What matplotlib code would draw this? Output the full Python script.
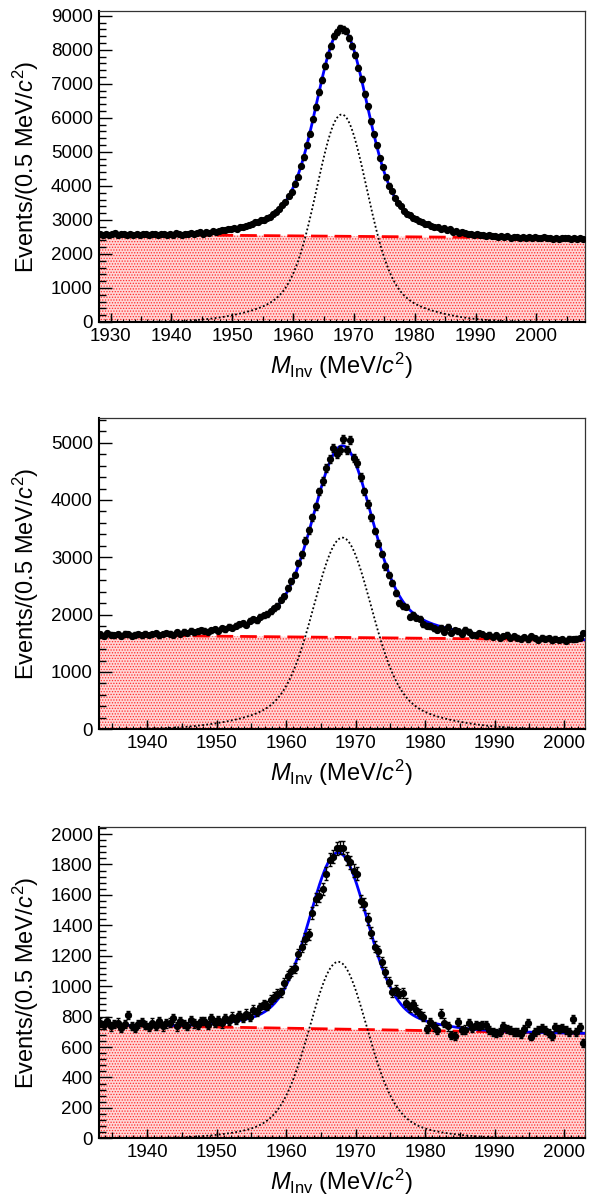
import numpy as np
import matplotlib
matplotlib.use('Agg')
import matplotlib.pyplot as plt
from matplotlib.ticker import MultipleLocator, AutoMinorLocator

plt.rcParams['font.family'] = ['Liberation Sans', 'DejaVu Sans']
plt.rcParams['mathtext.fontset'] = 'custom'
plt.rcParams['mathtext.rm'] = 'Liberation Sans'
plt.rcParams['mathtext.it'] = 'Liberation Sans:italic'
plt.rcParams['hatch.linewidth'] = 0.6

BIN_WIDTH = 0.5

# ---------------- Panel 1 ----------------
p1_range = (1928.0, 2008.0)
p1_ylim = (0, 9150)
p1_xticks = [1930, 1940, 1950, 1960, 1970, 1980, 1990, 2000]
p1_yticks = [0, 1000, 2000, 3000, 4000, 5000, 6000, 7000, 8000, 9000]
p1_counts = [
    2590, 2545, 2600, 2570, 2585, 2610, 2560, 2575, 2595, 2550,
    2580, 2565, 2600, 2555, 2590, 2575, 2545, 2600, 2580, 2560,
    2575, 2600, 2570, 2590, 2560, 2605, 2585, 2570, 2600, 2590,
    2610, 2590, 2625, 2640, 2600, 2650, 2630, 2665, 2645, 2680,
    2700, 2690, 2735, 2720, 2760, 2745, 2800, 2790, 2835, 2850,
    2890, 2925, 2930, 2990, 3000, 3070, 3100, 3180, 3220, 3330,
    3440, 3520, 3700, 3830, 4070, 4270, 4580, 4840, 5200, 5540,
    5960, 6320, 6760, 7120, 7530, 7860, 8120, 8400, 8520, 8640,
    8600, 8560, 8350, 8100, 7850, 7480, 7150, 6700, 6340, 5900,
    5520, 5190, 4820, 4550, 4250, 4010, 3850, 3640, 3490, 3400,
    3270, 3180, 3140, 3050, 3030, 2960, 2950, 2890, 2880, 2820,
    2800, 2790, 2740, 2760, 2700, 2720, 2660, 2680, 2620, 2650,
    2610, 2580, 2600, 2560, 2590, 2545, 2570, 2530, 2555, 2520,
    2530, 2500, 2520, 2490, 2515, 2480, 2505, 2495, 2470, 2490,
    2460, 2490, 2470, 2485, 2455, 2475, 2490, 2460, 2470, 2450,
    2470, 2450, 2480, 2455, 2465, 2440, 2475, 2450, 2460, 2445,
]
p1_bg_ends = (2580, 2460)
p1_sig_mean = 1968.0
p1_sig_core = (5100, 4.0)
p1_sig_tail = (1000, 10.0)

# ---------------- Panel 2 ----------------
p2_range = (1933.0, 2003.0)
p2_ylim = (0, 5430)
p2_xticks = [1940, 1950, 1960, 1970, 1980, 1990, 2000]
p2_yticks = [0, 1000, 2000, 3000, 4000, 5000]
p2_counts = [
    1660, 1630, 1675, 1650, 1640, 1665, 1625, 1670, 1655, 1635,
    1650, 1665, 1640, 1670, 1645, 1660, 1675, 1640, 1665, 1680,
    1670, 1650, 1690, 1665, 1700, 1680, 1720, 1690, 1710, 1730,
    1720, 1700, 1730, 1745, 1720, 1760, 1745, 1790, 1770, 1810,
    1830, 1850, 1820, 1890, 1920, 1900, 1960, 1990, 2010, 2060,
    2110, 2150, 2260, 2320, 2460, 2590, 2700, 2900, 3050, 3290,
    3470, 3700, 3890, 4150, 4330, 4560, 4720, 4910, 4800, 4880,
    5070, 4880, 5040, 4740, 4640, 4400, 4150, 3930, 3700, 3460,
    3240, 3060, 2840, 2690, 2550, 2380, 2200, 2150, 2140, 1960,
    2000, 1950, 1930, 1830, 1810, 1800, 1760, 1740, 1770, 1700,
    1790, 1680, 1730, 1710, 1660, 1740, 1700, 1650, 1640, 1680,
    1660, 1620, 1650, 1610, 1640, 1600, 1630, 1650, 1590, 1620,
    1600, 1580, 1610, 1570, 1620, 1590, 1560, 1600, 1580, 1590,
    1550, 1580, 1560, 1570, 1540, 1580, 1570, 1580, 1590, 1680,
]
p2_bg_ends = (1645, 1560)
p2_sig_mean = 1968.1
p2_sig_core = (2795, 4.0)
p2_sig_tail = (548, 10.0)

# ---------------- Panel 3 ----------------
p3_range = (1933.0, 2003.0)
p3_ylim = (0, 2048)
p3_xticks = [1940, 1950, 1960, 1970, 1980, 1990, 2000]
p3_yticks = [0, 200, 400, 600, 800, 1000, 1200, 1400, 1600, 1800, 2000]
p3_counts = [
    760, 745, 770, 735, 750, 760, 725, 750, 810, 740,
    725, 750, 765, 745, 730, 760, 740, 770, 735, 755,
    760, 790, 735, 770, 750, 740, 775, 755, 745, 770,
    770, 745, 790, 760, 775, 755, 790, 770, 800, 780,
    810, 790, 820, 800, 845, 830, 860, 880, 870, 910,
    930, 950, 960, 1020, 1070, 1100, 1120, 1210, 1260, 1310,
    1340, 1480, 1570, 1590, 1640, 1740, 1830, 1850, 1905, 1910,
    1910, 1840, 1815, 1760, 1740, 1560, 1540, 1440, 1350, 1260,
    1230, 1160, 1090, 1030, 960, 975, 950, 955, 890, 860,
    880, 845, 820, 800, 720, 765, 735, 715, 820, 760,
    735, 680, 670, 765, 712, 715, 755, 725, 745, 740,
    745, 745, 712, 700, 690, 700, 735, 720, 712, 700,
    700, 686, 720, 756, 669, 700, 712, 725, 712, 690,
    673, 734, 720, 723, 712, 700, 783, 701, 734, 625,
]
p3_bg_ends = (745, 690)
p3_sig_mean = 1967.5
p3_sig_core = (1010, 4.0)
p3_sig_tail = (150, 9.0)

panels = [
    (p1_range, p1_ylim, p1_xticks, p1_yticks, p1_counts, p1_bg_ends, p1_sig_mean, p1_sig_core, p1_sig_tail),
    (p2_range, p2_ylim, p2_xticks, p2_yticks, p2_counts, p2_bg_ends, p2_sig_mean, p2_sig_core, p2_sig_tail),
    (p3_range, p3_ylim, p3_xticks, p3_yticks, p3_counts, p3_bg_ends, p3_sig_mean, p3_sig_core, p3_sig_tail),
]

W, H = 590, 1199
fig = plt.figure(figsize=(W / 100, H / 100), dpi=100)

ax_left, ax_right = 98.5, 585.0
frames = [(10.7, 322.0), (418.0, 729.3), (826.7, 1138.3)]

for (xr, ylim, xt, yt, counts, bg_ends, mu, core, tail), (top, bot) in zip(panels, frames):
    ax = fig.add_axes([ax_left / W, 1 - bot / H, (ax_right - ax_left) / W, (bot - top) / H])
    counts = np.asarray(counts, dtype=float)
    centers = xr[0] + BIN_WIDTH / 2 + BIN_WIDTH * np.arange(len(counts))

    xf = np.linspace(xr[0], xr[1], 800)
    bg = bg_ends[0] + (bg_ends[1] - bg_ends[0]) * (xf - xr[0]) / (xr[1] - xr[0])
    sig = core[0] * np.exp(-0.5 * ((xf - mu) / core[1]) ** 2) + tail[0] * np.exp(-0.5 * ((xf - mu) / tail[1]) ** 2)

    ax.fill_between(xf, 0, bg, facecolor='#ffd6d6', edgecolor='#ff2a2a', hatch='......', linewidth=0, zorder=1)
    ax.plot(xf, bg, color='#ff0000', lw=2.0, dashes=(6, 2.5), zorder=2)
    ax.plot(xf, sig, color='black', lw=1.3, ls=(0, (1, 1.3)), zorder=3)
    ax.plot(xf, bg + sig, color='#0000ff', lw=2.0, zorder=4)
    ax.errorbar(centers, counts, yerr=np.sqrt(counts), xerr=BIN_WIDTH / 2, fmt='o', ms=4.2,
                color='black', ecolor='black', elinewidth=1.0, capsize=1.5, capthick=1.0, zorder=5)

    ax.set_xlim(xr)
    ax.set_ylim(ylim)
    ax.set_xticks(xt)
    ax.set_yticks(yt)
    ax.xaxis.set_minor_locator(MultipleLocator(1))
    ax.yaxis.set_minor_locator(AutoMinorLocator(5))
    ax.tick_params(axis='both', which='both', direction='in', top=False, right=False, labelsize=13.5)
    ax.tick_params(axis='y', which='major', length=9.5, width=1.0, pad=4)
    ax.tick_params(axis='y', which='minor', length=4.8, width=1.0)
    ax.tick_params(axis='x', which='major', length=6.5, width=1.0, pad=4)
    ax.tick_params(axis='x', which='minor', length=2.5, width=0.8)

    # medium ticks every 5 MeV
    ax2 = ax.twiny()
    ax2.set_xlim(xr)
    ax2.xaxis.set_ticks_position('bottom')
    ax2.xaxis.set_major_locator(MultipleLocator(5))
    ax2.tick_params(axis='x', which='major', direction='in', length=4.5, width=0.9, labelbottom=False, labeltop=False)
    for s in ax2.spines.values():
        s.set_visible(False)

    for side in ('left', 'bottom'):
        ax.spines[side].set_linewidth(1.5)
        ax.spines[side].set_color('black')
    for side in ('top', 'right'):
        ax.spines[side].set_linewidth(0.9)
        ax.spines[side].set_color('#333333')

    ax.set_ylabel('Events/(0.5 MeV/$c^{2}$)', fontsize=17)
    ax.set_xlabel('$M_{\\rm Inv}$ (MeV/$c^{2}$)', fontsize=17)
    ax.yaxis.set_label_coords(-0.118, 0.5)
    ax.xaxis.set_label_coords(0.5, -0.092)

fig.savefig('out.png', dpi=100)
